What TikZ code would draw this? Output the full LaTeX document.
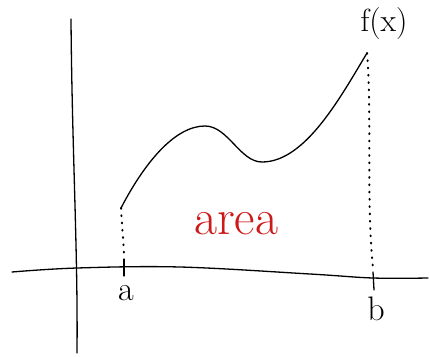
\documentclass[tikz,border=0pt]{standalone}
\usepackage{fontspec}
\usetikzlibrary{positioning}
\definecolor{inkred}{RGB}{205,25,25}
\begin{document}
\begin{tikzpicture}[x=1pt, y=-1pt, line width=1.3pt, line cap=round,
    drop/.style={dash pattern=on 0.8pt off 6.5pt, line width=2pt},
    tick/.style={line width=1.3pt},
    lbl/.style={inner sep=0pt, font=\fontsize{34}{38}\selectfont}]
  \useasboundingbox (0,0) rectangle (430,356);
  % axes
  \draw (71,19) .. controls (72,150) and (78,250) .. (77,353);
  \draw plot[smooth, tension=0.6] coordinates {(12,272) (77,268) (180,267) (310,274) (373,278) (428,278)};
  \coordinate (fa) at (121,208);
  \coordinate (top) at (205,126);
  \coordinate (low) at (262,162);
  \coordinate (fb) at (367,53);
  \coordinate (xa) at (124,259);
  \coordinate (xb) at (373,268);
  % ticks
  \draw[tick] (xa) -- (124,276);
  \draw[tick] (373,272) -- (374,290);
  % the function
  \draw (fa) .. controls (146,160) and (176,126) .. (top)
        .. controls (228,126) and (240,162) .. (low)
        .. controls (305,162) and (340,98) .. (fb);
  \draw[drop] (fa) .. controls (122,228) and (124,245) .. (xa);
  \draw[drop] (fb) .. controls (372,110) and (366,200) .. (xb);
  % labels
  \node[lbl, font=\fontsize{32}{36}\selectfont] (fx) at (384,24) {f(x)};
  \node[lbl] (a) at (126,293) {a};
  \node[lbl] (b) at (376,309) {b};
  \node[lbl, text=inkred, font=\fontsize{50}{56}\selectfont] (area) at (236,224) {area};
\end{tikzpicture}
\end{document}
